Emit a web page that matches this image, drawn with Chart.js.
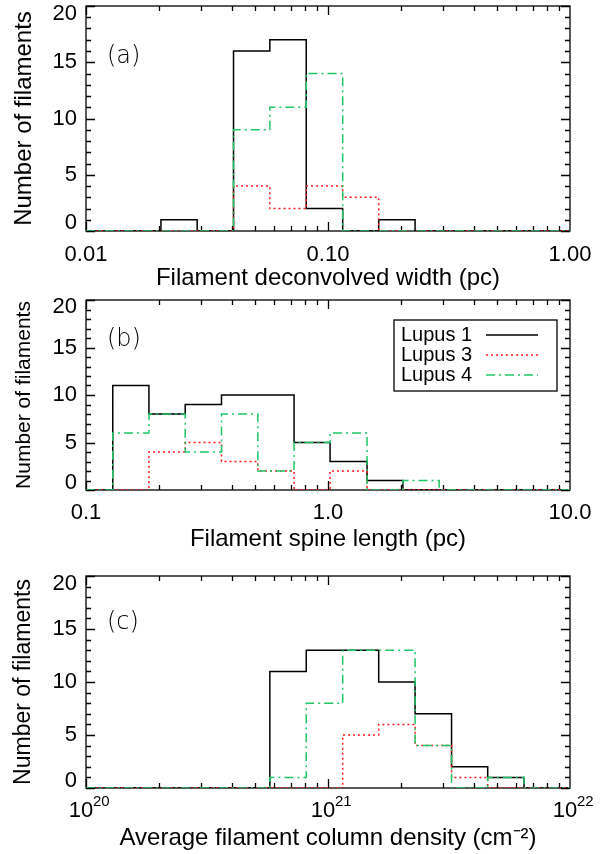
<!DOCTYPE html>
<html>
<head>
<meta charset="utf-8">
<script src="https://cdn.jsdelivr.net/npm/chart.js@4.4.1/dist/chart.umd.min.js"></script>
<style>
  html, body { margin: 0; padding: 0; background: #fff; }
  body { width: 608px; height: 854px; position: relative; overflow: hidden; }
  canvas { position: absolute; left: 0; }
</style>
</head>
<body>
<canvas id="widthChart" width="608" height="300" style="top:0px"></canvas>
<canvas id="lengthChart" width="608" height="280" style="top:280px"></canvas>
<canvas id="densityChart" width="608" height="294" style="top:560px"></canvas>
<script>
// bin edges (n+1 values for n bins) and counts per region
const widthEdges = [0.0204, 0.0288, 0.0407, 0.0575, 0.0813, 0.115, 0.162, 0.229];
const widthLupus1 = [1, 0, 16, 17, 2, 0, 1];
const widthLupus3 = [0, 0, 4, 2, 4, 3, 0];
const widthLupus4 = [0, 0, 9, 11, 14, 0, 0];
const widthTicks = [0.01, 0.1, 1];
const widthTickLabels = ['0.01', '0.10', '1.00'];

const lengthEdges = [0.129, 0.182, 0.257, 0.363, 0.513, 0.724, 1.02, 1.45, 2.04, 2.88];
const lengthLupus1 = [11, 8, 9, 10, 10, 5, 3, 1, 0];
const lengthLupus3 = [0, 4, 5, 3, 2, 0, 2, 0, 0];
const lengthLupus4 = [6, 8, 4, 8, 2, 5, 6, 0, 1];
const lengthTicks = [0.1, 1, 10];
const lengthTickLabels = ['0.1', '1.0', '10.0'];

const densityEdges = [5.75e20, 8.13e20, 1.15e21, 1.62e21, 2.29e21, 3.24e21, 4.57e21, 6.46e21];
const densityLupus1 = [11, 13, 13, 10, 7, 2, 1];
const densityLupus3 = [0, 0, 5, 6, 4, 1, 0];
const densityLupus4 = [1, 8, 13, 13, 4, 0, 1];
const densityTicks = [1e20, 1e21, 1e22];
const densityTickExps = ['20', '21', '22'];

const countTicks = [0, 5, 10, 15, 20];
const seriesNames = ['Lupus 1', 'Lupus 3', 'Lupus 4'];
const seriesColors = ['#000000', '#ff1a1a', '#1ec764'];

const FACE = 'Liberation Sans';
const TICK_SIZE = 22;
const TITLE_SIZE = 24;
const LEGEND_SIZE = 20;

// histogram outline: baseline from axis min, one point per bin, back to 0, on to axis max
function stepPoints(edges, counts, xmin, xmax) {
    const pts = [{ x: xmin, y: 0 }];
    counts.forEach((c, i) => pts.push({ x: edges[i], y: c }));
    pts.push({ x: edges[counts.length], y: 0 });
    pts.push({ x: xmax, y: 0 });
    return pts;
}

// box round the plot with inward ticks on all four sides
const frameTicks = {
    id: 'frameTicks',
    beforeDatasetsDraw(chart) {
        const { ctx, chartArea: a, scales: { x, y } } = chart;
        ctx.save();
        ctx.strokeStyle = '#000';
        ctx.lineWidth = 1.3;
        ctx.strokeRect(a.left, a.top, a.right - a.left, a.bottom - a.top);
        ctx.beginPath();
        for (let v = y.min; v <= y.max; v++) {
            const py = Math.round(y.getPixelForValue(v)) + 0.5;
            const len = v % 5 === 0 ? 9 : 5;
            ctx.moveTo(a.left, py); ctx.lineTo(a.left + len, py);
            ctx.moveTo(a.right, py); ctx.lineTo(a.right - len, py);
        }
        const d0 = Math.round(Math.log10(x.min)), d1 = Math.round(Math.log10(x.max));
        for (let d = d0; d < d1; d++) {
            for (let m = 1; m <= 9; m++) {
                const px = Math.round(x.getPixelForValue(m * Math.pow(10, d))) + 0.5;
                const len = m === 1 ? 9 : 5;
                ctx.moveTo(px, a.bottom); ctx.lineTo(px, a.bottom - len);
                ctx.moveTo(px, a.top); ctx.lineTo(px, a.top + len);
            }
        }
        ctx.stroke();
        ctx.restore();
    }
};

const panelLabel = {
    id: 'panelLabel',
    afterDraw(chart, args, opts) {
        const { ctx, chartArea: a } = chart;
        ctx.save();
        ctx.font = `200 24px 'DejaVu Sans'`;
        ctx.fillStyle = '#000';
        ctx.textBaseline = 'middle';
        ctx.fillText(opts.text, a.left + 21, a.top + opts.dy);
        ctx.restore();
    }
};

const boxLegend = {
    id: 'boxLegend',
    afterDatasetsDraw(chart) {
        const { ctx, chartArea: a } = chart;
        const left = a.right - 176, top = a.top + 20, w = 163, h = 71;
        ctx.save();
        ctx.fillStyle = '#fff';
        ctx.fillRect(left, top, w, h);
        ctx.strokeStyle = '#000';
        ctx.lineWidth = 1.3;
        ctx.strokeRect(left, top, w, h);
        ctx.font = `${LEGEND_SIZE}px '${FACE}'`;
        ctx.textBaseline = 'middle';
        chart.data.datasets.forEach((ds, i) => {
            const yy = top + 15 + i * 20;
            ctx.fillStyle = '#000';
            ctx.fillText(ds.label, left + 7, yy);
            ctx.strokeStyle = ds.borderColor;
            ctx.lineWidth = ds.borderWidth;
            ctx.setLineDash(ds.borderDash || []);
            ctx.beginPath();
            ctx.moveTo(left + 92, yy);
            ctx.lineTo(left + 144, yy);
            ctx.stroke();
        });
        ctx.restore();
    }
};

const tickExponents = {
    id: 'tickExponents',
    afterDraw(chart) {
        const { ctx, chartArea: a, scales: { x } } = chart;
        ctx.save();
        ctx.font = `15px '${FACE}'`;
        ctx.fillStyle = '#000';
        ctx.textBaseline = 'middle';
        densityTicks.forEach((v, i) => {
            ctx.fillText(densityTickExps[i], x.getPixelForValue(v) + 7, a.bottom + 14);
        });
        ctx.restore();
    }
};

// end labels sit inside the box: push "20" down and "0" up by half a line
function countLabel(v) {
    if (v === countTicks[countTicks.length - 1]) return ['', String(v)];
    if (v === countTicks[0]) return [String(v), ''];
    return String(v);
}

function histChart(canvasId, p) {
    const mk = (i, counts, dash) => ({
        label: seriesNames[i],
        data: stepPoints(p.edges, counts, p.min, p.max),
        borderColor: seriesColors[i],
        borderWidth: 1.5,
        borderDash: dash,
        order: 3 - i
    });
    return new Chart(document.getElementById(canvasId), {
        type: 'line',
        data: {
            datasets: [
                mk(0, p.s1, []),
                mk(1, p.s3, [2, 3]),
                mk(2, p.s4, [9, 4, 2, 4])
            ]
        },
        options: {
            responsive: false,
            animation: false,
            devicePixelRatio: 1,
            layout: { padding: { left: 0, right: 38, top: p.top, bottom: 0 } },
            elements: {
                point: { radius: 0 },
                line: { stepped: 'before', tension: 0, fill: false }
            },
            plugins: {
                legend: { display: false },
                tooltip: { enabled: false },
                panelLabel: { text: p.letter, dy: p.letterDy }
            },
            scales: {
                x: {
                    type: 'logarithmic',
                    min: p.min,
                    max: p.max,
                    grid: { display: false, drawTicks: false },
                    border: { display: false },
                    afterBuildTicks: s => { s.ticks = p.ticks.map(v => ({ value: v })); },
                    afterFit: s => { s.height = p.xHeight; s.paddingLeft = 0; s.paddingRight = 0; },
                    ticks: {
                        autoSkip: false,
                        maxRotation: 0,
                        padding: p.tickPad,
                        labelOffset: p.labelOffset || 0,
                        color: '#000',
                        font: { family: FACE, size: TICK_SIZE },
                        callback: (v, i) => p.labels[i]
                    },
                    title: {
                        display: true,
                        text: p.xTitle,
                        color: '#000',
                        font: { family: FACE, size: TITLE_SIZE, lineHeight: 1 },
                        padding: { top: 0, bottom: p.titlePad }
                    }
                },
                y: {
                    type: 'linear',
                    min: 0,
                    max: 20,
                    grid: { display: false, drawTicks: false },
                    border: { display: false },
                    afterBuildTicks: s => { s.ticks = countTicks.map(v => ({ value: v })); },
                    afterFit: s => { s.width = 86; s.paddingTop = 0; s.paddingBottom = 0; },
                    ticks: {
                        padding: 9,
                        color: '#000',
                        font: { family: FACE, size: TICK_SIZE, lineHeight: p.endShift },
                        callback: v => countLabel(v)
                    },
                    title: {
                        display: true,
                        text: 'Number of filaments',
                        color: '#000',
                        font: { family: FACE, size: p.yTitleSize, lineHeight: 1 },
                        padding: { top: 24 - p.yTitleSize / 2, bottom: 0 }
                    }
                }
            }
        },
        plugins: [frameTicks, panelLabel].concat(p.extra || [])
    });
}

histChart('widthChart', {
    edges: widthEdges, s1: widthLupus1, s3: widthLupus3, s4: widthLupus4,
    min: 0.01, max: 1, ticks: widthTicks, labels: widthTickLabels,
    top: 6, xHeight: 69, tickPad: 11, titlePad: 10, endShift: '16px',
    xTitle: 'Filament deconvolved width (pc)', yTitleSize: 24,
    letter: '(a)', letterDy: 51
});

histChart('lengthChart', {
    edges: lengthEdges, s1: lengthLupus1, s3: lengthLupus3, s4: lengthLupus4,
    min: 0.1, max: 10, ticks: lengthTicks, labels: lengthTickLabels,
    top: 20, xHeight: 70, tickPad: 10, titlePad: 9, endShift: '14px',
    xTitle: 'Filament spine length (pc)', yTitleSize: 21,
    letter: '(b)', letterDy: 40, extra: [boxLegend]
});

histChart('densityChart', {
    edges: densityEdges, s1: densityLupus1, s3: densityLupus3, s4: densityLupus4,
    min: 1e20, max: 1e22, ticks: densityTicks, labels: densityTicks.map(() => '10'),
    labelOffset: -5,
    top: 16, xHeight: 66, tickPad: 10, titlePad: 4, endShift: '15px',
    xTitle: 'Average filament column density (cm\u207B\u00B2)', yTitleSize: 23,
    letter: '(c)', letterDy: 47, extra: [tickExponents]
});
</script>
</body>
</html>
